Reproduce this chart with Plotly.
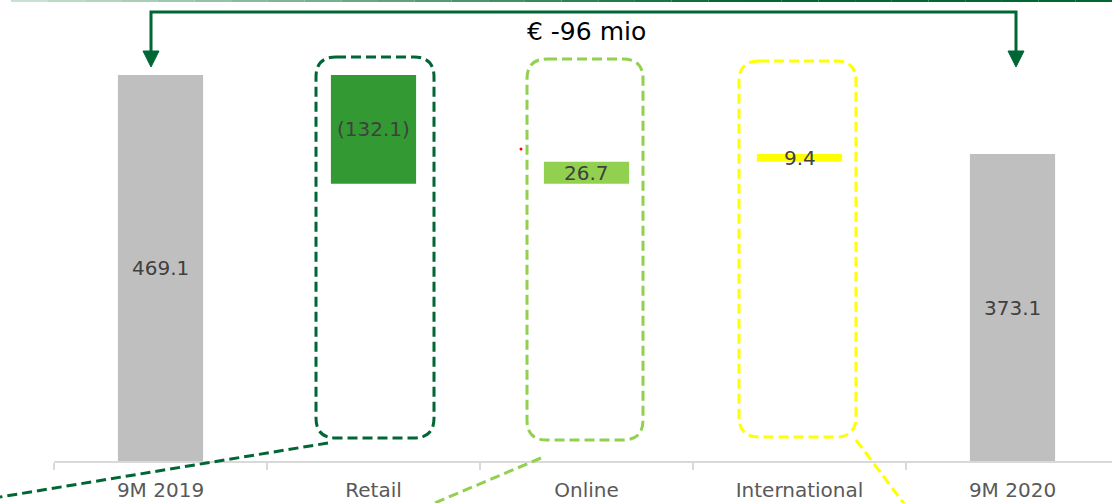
import numpy as np
import plotly.graph_objects as go

categories = ["9M 2019", "Retail", "Online", "International", "9M 2020"]
values = [469.1, -132.1, 26.7, 9.4, 373.1]
measures = ["absolute", "relative", "relative", "relative", "total"]
labels = ["469.1", "(132.1)", "26.7", "9.4", "373.1"]
bar_colors = ["#bfbfbf", "#339933", "#92d050", "#ffff00", "#bfbfbf"]
delta_text = "€ -96 mio"

# compute waterfall bases
bases, heights = [], []
running = 0.0
for v, m in zip(values, measures):
    if m == "absolute":
        bases.append(0.0); heights.append(v); running = v
    elif m == "total":
        bases.append(0.0); heights.append(running)
    else:
        bases.append(running); heights.append(v); running += v

W, H = 1112, 503
L, B = 54, 42
PW, PH = W - L, H - B


def px(x):
    return (x - L) / PW


def py(y):
    return (H - B - y) / PH


fig = go.Figure()
fig.add_trace(go.Bar(
    x=categories, y=heights, base=bases, width=0.4,
    marker=dict(color=bar_colors, line=dict(width=0)),
    hoverinfo="skip",
))

FONT = "DejaVu Sans"
for c, b, h, t in zip(categories, bases, heights, labels):
    fig.add_annotation(x=c, y=b + h / 2, text=t, showarrow=False,
                       font=dict(family=FONT, size=20, color="#404040"),
                       xref="x", yref="y", yanchor="middle")

shapes = []


def rounded_box(x0, y0, x1, y1, r, color):
    X0, X1 = px(x0), px(x1)
    Y0, Y1 = py(y0), py(y1)
    rx, ry = r / PW, r / PH
    path = (f"M {X0+rx},{Y0} L {X1-rx},{Y0} Q {X1},{Y0} {X1},{Y0-ry} "
            f"L {X1},{Y1+ry} Q {X1},{Y1} {X1-rx},{Y1} "
            f"L {X0+rx},{Y1} Q {X0},{Y1} {X0},{Y1+ry} "
            f"L {X0},{Y0-ry} Q {X0},{Y0} {X0+rx},{Y0} Z")
    return dict(type="path", path=path, xref="paper", yref="paper",
                line=dict(color=color, width=3, dash="10px,5px"),
                fillcolor="rgba(0,0,0,0)", layer="above")


def seg(x0, y0, x1, y1, color, width=3, dash="10px,5px"):
    return dict(type="line", x0=px(x0), y0=py(y0), x1=px(x1), y1=py(y1),
                xref="paper", yref="paper",
                line=dict(color=color, width=width, dash=dash))


DG = "#006633"
shapes.append(rounded_box(316, 57, 434, 438, 20, DG))
shapes.append(rounded_box(527, 59, 643, 440, 20, "#92d050"))
shapes.append(rounded_box(739, 61, 856, 437, 20, "#ffff00"))
shapes.append(seg(328, 443, 0, 497, DG))
shapes.append(seg(541, 458, 430, 505, "#92d050"))
shapes.append(seg(856, 440, 905, 505, "#ffff00"))

# bracket arrow
shapes.append(dict(type="path", xref="paper", yref="paper",
                   path=f"M {px(151)},{py(53)} L {px(151)},{py(12)} L {px(1016)},{py(12)} L {px(1016)},{py(53)}",
                   line=dict(color=DG, width=3), fillcolor="rgba(0,0,0,0)"))
for xc in (151, 1016):
    shapes.append(dict(type="path", xref="paper", yref="paper",
                       path=f"M {px(xc-8)},{py(51)} L {px(xc+8)},{py(51)} L {px(xc)},{py(67)} Z",
                       line=dict(color=DG, width=1), fillcolor=DG))

# top gradient rule
n = 30
c0 = np.array([200, 225, 210]); c1 = np.array([0, 102, 51])
for i in range(n):
    t = i / (n - 1)
    col = (c0 + (c1 - c0) * min(1.0, t * 1.5)).astype(int)
    xa = 11 + (W - 11) * i / n
    xb = 11 + (W - 11) * (i + 1) / n
    shapes.append(dict(type="line", xref="paper", yref="paper",
                       x0=px(xa), x1=px(xb), y0=py(1), y1=py(1),
                       line=dict(color=f"rgb({col[0]},{col[1]},{col[2]})", width=2)))

# small red dot
shapes.append(dict(type="circle", xref="paper", yref="paper",
                   x0=px(519.5), x1=px(522.5), y0=py(147.5), y1=py(150.5),
                   fillcolor="#ff0000", line=dict(width=0)))

fig.add_annotation(x=px(586), y=py(32), xref="paper", yref="paper",
                   xanchor="center", yanchor="middle",
                   text=delta_text, showarrow=False,
                   font=dict(family=FONT, size=25, color="#000000"))

fig.update_layout(
    width=W, height=H,
    margin=dict(l=L, r=0, t=0, b=B, pad=0),
    plot_bgcolor="white", paper_bgcolor="white",
    showlegend=False, shapes=shapes,
    xaxis=dict(type="category", range=[-0.5, -0.5 + PW / 213.0],
               showline=True, linecolor="#d9d9d9", linewidth=2,
               tickson="boundaries", ticks="outside", ticklen=7,
               tickcolor="#d9d9d9", tickwidth=2, showgrid=False,
               ticklabelstandoff=10,
               tickfont=dict(family=FONT, size=20, color="#595959")),
    yaxis=dict(range=[0, 560.3], visible=False, showgrid=False, zeroline=False),
)

fig.write_html("out.html")
